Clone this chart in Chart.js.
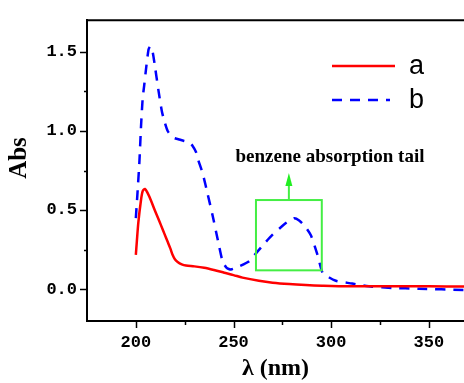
<!DOCTYPE html>
<html>
<head>
<meta charset="utf-8">
<script src="https://cdn.jsdelivr.net/npm/chart.js@4"></script>
<style>
  html, body { margin: 0; padding: 0; background: #fff; }
  #wrap { width: 464px; height: 383px; }
</style>
</head>
<body>
<div id="wrap"><canvas id="uvChart" width="464" height="383"></canvas></div>
<script>
// wavelength (nm) and absorbance
const waveA = [200, 200.5, 201.3, 202.5, 203.5, 204.7, 206, 207.8, 209.5, 211.2, 212.9, 214.6, 216.3, 217.6, 218.8, 220, 221.4, 223.5, 225.7, 230, 235, 240, 245.3, 250, 254.6, 263, 270, 278.5, 287, 295.4, 309, 330, 350, 368];
const absA = [0.218, 0.3, 0.424, 0.55, 0.62, 0.634, 0.609, 0.56, 0.506, 0.455, 0.404, 0.352, 0.30, 0.26, 0.218, 0.19, 0.173, 0.158, 0.15, 0.145, 0.136, 0.122, 0.105, 0.09, 0.074, 0.054, 0.042, 0.033, 0.027, 0.023, 0.019, 0.019, 0.019, 0.018];

const waveB = [200, 200.8, 201.8, 202.7, 203.5, 204.3, 205.2, 206.5, 207.4, 208.6, 210, 211.7, 213.4, 214.9, 216.3, 218.8, 223.1, 227.4, 229, 230.8, 232, 234.2, 236.8, 239.3, 242, 244.4, 246.5, 248.7, 253, 258, 262, 266.6, 270, 273.4, 277, 281, 283.6, 286.5, 289.6, 293, 295.6, 299, 302.4, 306, 310.7, 315, 321, 331, 345, 368];
const absB = [0.45, 0.6, 0.8, 1.04, 1.206, 1.29, 1.39, 1.515, 1.535, 1.5, 1.39, 1.247, 1.12, 1.05, 1.0, 0.96, 0.943, 0.928, 0.907, 0.867, 0.815, 0.733, 0.6, 0.467, 0.31, 0.177, 0.135, 0.126, 0.146, 0.177, 0.235, 0.30, 0.345, 0.383, 0.42, 0.449, 0.435, 0.40, 0.342, 0.218, 0.105, 0.075, 0.054, 0.045, 0.037, 0.027, 0.017, 0.009, 0.004, -0.004];

const seriesNames = ["a", "b"];
const xTicks = [200, 225, 250, 275, 300, 325, 350];
const xMajor = [200, 250, 300, 350];
const yTicks = [0, 0.25, 0.5, 0.75, 1.0, 1.25, 1.5];
const yMajor = [0, 0.5, 1.0, 1.5];

// green box around the benzene band (data units)
const boxX = [261.5, 295.2];
const boxY = [0.12, 0.564];
const noteText = "benzene absorption tail";
const yTitle = "Abs";

const toPoints = (xs, ys) => xs.map((x, i) => ({ x: x, y: ys[i] }));

const extras = {
  id: "extras",
  afterDraw(chart) {
    const ctx = chart.ctx;
    const area = chart.chartArea;
    const xs = chart.scales.x;
    const ys = chart.scales.y;
    ctx.save();

    // top frame line
    ctx.strokeStyle = "#000";
    ctx.lineWidth = 2;
    ctx.beginPath();
    ctx.moveTo(area.left - 1, area.top);
    ctx.lineTo(area.right, area.top);
    ctx.stroke();

    // tick marks, outward
    ctx.lineWidth = 1.5;
    xTicks.forEach((v) => {
      const px = Math.round(xs.getPixelForValue(v)) + 0.5;
      const len = xMajor.includes(v) ? 7 : 4;
      ctx.beginPath();
      ctx.moveTo(px, area.bottom);
      ctx.lineTo(px, area.bottom + len);
      ctx.stroke();
    });
    yTicks.forEach((v) => {
      const py = Math.round(ys.getPixelForValue(v)) + 0.5;
      const len = yMajor.includes(v) ? 7 : 3;
      ctx.beginPath();
      ctx.moveTo(area.left, py);
      ctx.lineTo(area.left - len, py);
      ctx.stroke();
    });

    // y axis title
    ctx.save();
    ctx.translate(20, 158);
    ctx.rotate(-Math.PI / 2);
    ctx.fillStyle = "#000";
    ctx.font = "bold 25px 'Liberation Serif'";
    ctx.textAlign = "center";
    ctx.textBaseline = "middle";
    ctx.fillText(yTitle, 0, 0);
    ctx.restore();

    // green box + arrow
    const bx0 = xs.getPixelForValue(boxX[0]);
    const bx1 = xs.getPixelForValue(boxX[1]);
    const by0 = ys.getPixelForValue(boxY[1]);
    const by1 = ys.getPixelForValue(boxY[0]);
    ctx.strokeStyle = "#44ee44";
    ctx.fillStyle = "#22ee22";
    ctx.lineWidth = 2;
    ctx.strokeRect(bx0, by0, bx1 - bx0, by1 - by0);
    const ax = (bx0 + bx1) / 2;
    ctx.beginPath();
    ctx.moveTo(ax, by0);
    ctx.lineTo(ax, by0 - 15);
    ctx.stroke();
    ctx.beginPath();
    ctx.moveTo(ax - 3.5, by0 - 14);
    ctx.lineTo(ax + 3.5, by0 - 14);
    ctx.lineTo(ax, by0 - 27);
    ctx.closePath();
    ctx.fill();

    // note
    ctx.fillStyle = "#000";
    ctx.font = "bold 19px 'Liberation Serif'";
    ctx.textAlign = "center";
    ctx.textBaseline = "alphabetic";
    ctx.fillText(noteText, 330, 162);

    // legend
    const ds = chart.data.datasets;
    const rows = [66, 100];
    ds.forEach((d, i) => {
      ctx.strokeStyle = d.borderColor;
      ctx.lineWidth = d.borderWidth;
      ctx.setLineDash(d.borderDash || []);
      ctx.beginPath();
      ctx.moveTo(332, rows[i]);
      ctx.lineTo(i === 0 ? 395 : 390, rows[i]);
      ctx.stroke();
      ctx.setLineDash([]);
      ctx.fillStyle = "#000";
      ctx.font = "27px 'Liberation Sans'";
      ctx.textAlign = "left";
      ctx.textBaseline = "middle";
      ctx.fillText(d.label, 409, rows[i] + 1);
    });
    ctx.restore();
  },
};

const chart = new Chart(document.getElementById("uvChart").getContext("2d"), {
  type: "line",
  data: {
    datasets: [
      {
        label: seriesNames[0],
        data: toPoints(waveA, absA),
        borderColor: "#ff0000",
        borderWidth: 2.5,
        pointRadius: 0,
        tension: 0.3,
        fill: false,
      },
      {
        label: seriesNames[1],
        data: toPoints(waveB, absB),
        borderColor: "#0000ff",
        borderWidth: 2.5,
        borderDash: [10, 8],
        pointRadius: 0,
        tension: 0.2,
        fill: false,
      },
    ],
  },
  options: {
    responsive: false,
    devicePixelRatio: 1,
    animation: false,
    layout: { padding: { top: 14, right: 0, bottom: 0, left: 0 } },
    plugins: { legend: { display: false }, tooltip: { enabled: false } },
    scales: {
      x: {
        type: "linear",
        min: 175,
        max: 368,
        afterBuildTicks: (s) => { s.ticks = xMajor.map((v) => ({ value: v })); },
        afterFit: (s) => { s.height = 62; },
        grid: { display: false, drawTicks: false },
        border: { display: true, color: "#000", width: 2 },
        ticks: {
          color: "#000",
          padding: 12,
          maxRotation: 0,
          font: { family: "'Liberation Mono'", size: 17, weight: "bold" },
          callback: (v) => String(v),
        },
        title: {
          display: true,
          text: "λ (nm)",
          color: "#000",
          padding: { top: 2, bottom: 0 },
          font: { family: "'Liberation Serif'", size: 24, weight: "bold" },
        },
      },
      y: {
        type: "linear",
        min: -0.2,
        max: 1.7,
        afterBuildTicks: (s) => { s.ticks = yMajor.map((v) => ({ value: v })); },
        afterFit: (s) => { s.width = 87; },
        grid: { display: false, drawTicks: false },
        border: { display: true, color: "#000", width: 2 },
        ticks: {
          color: "#000",
          padding: 10,
          font: { family: "'Liberation Mono'", size: 17, weight: "bold" },
          callback: (v) => v.toFixed(1),
        },
      },
    },
  },
  plugins: [extras],
});
</script>
</body>
</html>
